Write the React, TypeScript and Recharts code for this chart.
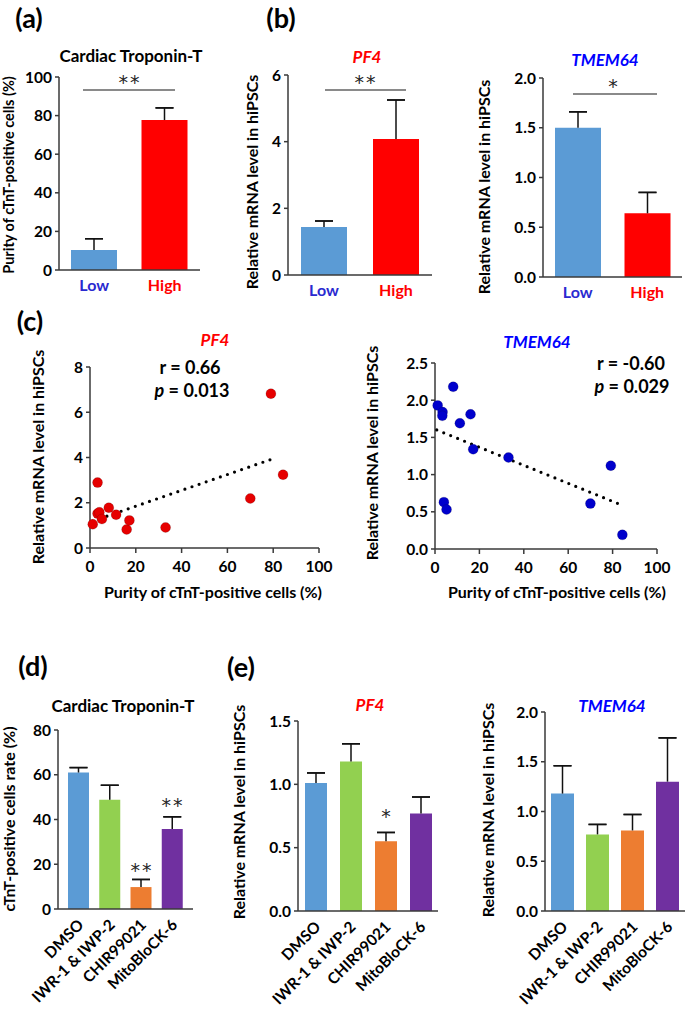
import React from 'react';
import { BarChart, Bar, XAxis, YAxis, ErrorBar, Cell, ScatterChart, Scatter } from 'recharts';

const FONT = 'Lato, "Open Sans", sans-serif';
const AXIS = '#3a3a3a';

// ---------- (a) / (b): Low vs High groups ----------
const groupCategories = ['Low', 'High'];
const groupBarColors = ['#5B9BD5', '#FF0000'];
const groupLabelColors = ['#2A2AD0', '#FF0000'];

const cTnTPurityValues = [10.3, 77.7];
const cTnTPurityErrors = [5.9, 6.3];
const cTnTPurityTicks = [0, 20, 40, 60, 80, 100];

const pf4GroupValues = [1.44, 4.08];
const pf4GroupErrors = [0.18, 1.17];
const pf4GroupTicks = [0, 2, 4, 6];

const tmem64GroupValues = [1.5, 0.64];
const tmem64GroupErrors = [0.16, 0.21];
const tmem64GroupTicks = [0, 0.5, 1, 1.5, 2];

// ---------- (c): correlation scatter ----------
const purityTicks = [0, 20, 40, 60, 80, 100];
const pf4PurityX = [1.2, 3.3, 3.3, 4.1, 5.2, 8.2, 11.4, 16.0, 17.2, 33.0, 70.0, 79.0, 84.3];
const pf4ScatterY = [1.05, 2.89, 1.52, 1.58, 1.28, 1.78, 1.47, 0.82, 1.22, 0.91, 2.19, 6.82, 3.24];
const pf4TrendX = [1.2, 81.2];
const pf4TrendY = [1.19, 3.99];
const pf4ScatterTicks = [0, 2, 4, 6, 8];

const tmem64PurityX = [1.2, 3.4, 3.3, 4.0, 5.2, 8.2, 11.2, 16.0, 17.2, 33.1, 70.0, 79.2, 84.4];
const tmem64ScatterY = [1.93, 1.84, 1.79, 0.63, 0.53, 2.18, 1.69, 1.81, 1.34, 1.23, 0.61, 1.12, 0.19];
const tmem64TrendX = [0.8, 82.5];
const tmem64TrendY = [1.6, 0.61];
const tmem64ScatterTicks = [0, 0.5, 1, 1.5, 2, 2.5];

// ---------- (d) / (e): treatments ----------
const treatments = ['DMSO', 'IWR-1 & IWP-2', 'CHIR99021', 'MitoBloCK-6'];
const treatmentColors = ['#5B9BD5', '#92D050', '#ED7D31', '#7030A0'];

const cTnTRateValues = [61.0, 48.8, 9.8, 35.7];
const cTnTRateErrors = [2.2, 6.5, 3.4, 5.5];
const cTnTRateTicks = [0, 20, 40, 60, 80];

const pf4TreatValues = [1.01, 1.18, 0.55, 0.77];
const pf4TreatErrors = [0.08, 0.14, 0.07, 0.13];
const pf4TreatTicks = [0, 0.5, 1, 1.5];

const tmem64TreatValues = [1.18, 0.77, 0.81, 1.3];
const tmem64TreatErrors = [0.28, 0.1, 0.16, 0.44];
const tmem64TreatTicks = [0, 0.5, 1, 1.5, 2];

const fmt0 = (v: number) => String(v);
const fmt1 = (v: number) => v.toFixed(1);

type TxtProps = {
  x: number; y: number; children: any; size?: number; color?: string;
  bold?: boolean; italic?: boolean; rotate?: boolean; spacing?: number; family?: string;
};
function Txt({ x, y, children, size = 15, color = '#000', bold = true, italic = false, rotate = false, spacing = 0, family = FONT }: TxtProps) {
  return (
    <div
      style={{
        position: 'absolute', left: x, top: y,
        transform: `translate(-50%,-50%)${rotate ? ' rotate(-90deg)' : ''}`,
        fontFamily: family, fontSize: size, fontWeight: bold ? 700 : 400,
        fontStyle: italic ? 'italic' : 'normal', color, whiteSpace: 'nowrap',
        lineHeight: 1, letterSpacing: spacing,
      }}
    >
      {children}
    </div>
  );
}

function Stars({ x, y, n }: { x: number; y: number; n: number }) {
  return <Txt x={x} y={y} size={19} bold={false} color="#262626" spacing={n > 1 ? 2 : 0} family='"DejaVu Sans", sans-serif'>{'*'.repeat(n)}</Txt>;
}

function HLine({ x1, x2, y }: { x1: number; x2: number; y: number }) {
  return <div style={{ position: 'absolute', left: x1, top: y - 0.75, width: x2 - x1, height: 1.5, background: '#8a8a8a' }} />;
}

const FlatTick = (colors: string[]) => (props: any) => {
  const { x, y, payload, index } = props;
  return (
    <text x={x} y={y} dy="0.8em" textAnchor="middle" fontFamily={FONT} fontWeight={700} fontSize={16}
      fill={colors[index] ?? '#000'}>{payload.value}</text>
  );
};

const RotTick = (props: any) => {
  const { x, y, payload } = props;
  const ax = x + 6;
  const ay = y + 9;
  return (
    <text x={ax} y={ay} textAnchor="end" fontFamily={FONT} fontWeight={700} fontSize={15.5}
      fill="#000" transform={`rotate(-45 ${ax} ${ay})`}>{payload.value}</text>
  );
};

type BarPanelProps = {
  x0: number; x1: number; yTop: number; yBot: number;
  cats: string[]; vals: number[]; errs: number[]; colors: string[];
  domain: [number, number]; ticks: number[]; fmt: (v: number) => string;
  barSize: number; rotated?: boolean; labelColors?: string[]; padX?: number;
};
function BarPanel({ x0, x1, yTop, yBot, cats, vals, errs, colors, domain, ticks, fmt, barSize, rotated, labelColors, padX = 0 }: BarPanelProps) {
  const YW = 50, MT = 12, MR = 2, XH = rotated ? 100 : 30;
  // whisker: from bar top up to value+err (no cap at the bar top); cap: zero-length span at value+err
  const data = cats.map((c, i) => ({ name: c, value: vals[i], whisker: [0, errs[i]], cap: [-errs[i], errs[i]] }));
  const width = YW + (x1 - x0) + MR;
  const height = MT + (yBot - yTop) + XH;
  return (
    <div style={{ position: 'absolute', left: x0 - YW, top: yTop - MT }}>
      <BarChart width={width} height={height} data={data} margin={{ top: MT, right: MR, left: 0, bottom: 0 }}
        barCategoryGap={0} style={{ overflow: 'visible' }}>
        <XAxis dataKey="name" interval={0} height={XH} tickLine={false}
          axisLine={{ stroke: AXIS, strokeWidth: 1.5 }}
          padding={{ left: padX, right: padX }}
          tick={rotated ? RotTick : FlatTick(labelColors ?? [])} />
        <YAxis width={YW} domain={domain} ticks={ticks} tickFormatter={fmt} interval={0}
          axisLine={{ stroke: AXIS, strokeWidth: 1.5 }} tickLine={{ stroke: AXIS, strokeWidth: 1.5 }}
          tickSize={4} tickMargin={3}
          tick={{ fill: '#000', fontFamily: FONT, fontWeight: 700, fontSize: 15.5 }} />
        <Bar dataKey="value" barSize={barSize} isAnimationActive={false}>
          {data.map((d, i) => (
            <Cell key={d.name} fill={colors[i]} />
          ))}
          <ErrorBar dataKey="whisker" direction="y" width={0} stroke="#111" strokeWidth={1.5} />
          <ErrorBar dataKey="cap" direction="y" width={9} stroke="#111" strokeWidth={1.5} />
        </Bar>
      </BarChart>
    </div>
  );
}

type ScatterPanelProps = {
  x0: number; x1: number; yTop: number; yBot: number;
  xs: number[]; ys: number[]; color: string; tx: number[]; ty: number[];
  yDomain: [number, number]; yTicks: number[]; fmt: (v: number) => string;
};
function ScatterPanel({ x0, x1, yTop, yBot, xs, ys, color, tx, ty, yDomain, yTicks, fmt }: ScatterPanelProps) {
  const YW = 50, MT = 12, MR = 20, XH = 30;
  const pts = xs.map((x, i) => ({ x, y: ys[i] }));
  const trend = tx.map((x, i) => ({ x, y: ty[i] }));
  const width = YW + (x1 - x0) + MR;
  const height = MT + (yBot - yTop) + XH;
  return (
    <div style={{ position: 'absolute', left: x0 - YW, top: yTop - MT }}>
      <ScatterChart width={width} height={height} margin={{ top: MT, right: MR, left: 0, bottom: 0 }}
        style={{ overflow: 'visible' }}>
        <XAxis type="number" dataKey="x" domain={[0, 100]} ticks={purityTicks} interval={0} height={XH}
          axisLine={{ stroke: AXIS, strokeWidth: 1.5 }} tickLine={{ stroke: AXIS, strokeWidth: 1.5 }}
          tickSize={5} tickMargin={8}
          tick={{ fill: '#000', fontFamily: FONT, fontWeight: 700, fontSize: 15.5 }} />
        <YAxis type="number" dataKey="y" width={YW} domain={yDomain} ticks={yTicks} tickFormatter={fmt} interval={0}
          axisLine={{ stroke: AXIS, strokeWidth: 1.5 }} tickLine={{ stroke: AXIS, strokeWidth: 1.5 }}
          tickSize={4} tickMargin={3}
          tick={{ fill: '#000', fontFamily: FONT, fontWeight: 700, fontSize: 15.5 }} />
        <Scatter data={trend} isAnimationActive={false} fill="#000"
          line={{ stroke: '#000', strokeWidth: 3.2, strokeDasharray: '0 7.5', strokeLinecap: 'round' }}
          shape={() => <g />} />
        <Scatter data={pts} isAnimationActive={false} fill={color}
          shape={(p: any) => <circle cx={p.cx} cy={p.cy} r={5} fill={color} stroke="#000" strokeOpacity={0.15} />} />
      </ScatterChart>
    </div>
  );
}

export default function App() {
  return (
    <div style={{ position: 'absolute', left: 0, top: 0, width: 685, height: 1009, background: '#fff', overflow: 'hidden' }}>
      {/* (a) */}
      <Txt x={29} y={17} size={27}>(a)</Txt>
      <Txt x={131} y={55} size={17}>Cardiac Troponin-T</Txt>
      <Txt x={9} y={175} size={14.5} rotate>Purity of cTnT-positive cells (%)</Txt>
      <BarPanel x0={59} x1={200} yTop={77} yBot={270} cats={groupCategories} vals={cTnTPurityValues}
        errs={cTnTPurityErrors} colors={groupBarColors} domain={[0, 100]} ticks={cTnTPurityTicks} fmt={fmt0}
        barSize={46} labelColors={groupLabelColors} />
      <HLine x1={83} x2={175} y={90} />
      <Stars x={130} y={82} n={2} />

      {/* (b) */}
      <Txt x={281} y={17} size={27}>(b)</Txt>
      <Txt x={367} y={56} size={17} italic color="#FF0000">PF4</Txt>
      <Txt x={252} y={182} size={16} rotate>Relative mRNA level in hiPSCs</Txt>
      <BarPanel x0={288} x1={432} yTop={75} yBot={275} cats={groupCategories} vals={pf4GroupValues}
        errs={pf4GroupErrors} colors={groupBarColors} domain={[0, 6]} ticks={pf4GroupTicks} fmt={fmt0}
        barSize={46} labelColors={groupLabelColors} />
      <HLine x1={325} x2={406} y={90} />
      <Stars x={366} y={82} n={2} />

      <Txt x={605} y={59} size={17} italic color="#0000FF">TMEM64</Txt>
      <Txt x={484} y={187} size={16} rotate>Relative mRNA level in hiPSCs</Txt>
      <BarPanel x0={543} x1={682} yTop={78} yBot={277} cats={groupCategories} vals={tmem64GroupValues}
        errs={tmem64GroupErrors} colors={groupBarColors} domain={[0, 2]} ticks={tmem64GroupTicks} fmt={fmt1}
        barSize={46} labelColors={groupLabelColors} />
      <HLine x1={573} x2={657} y={94} />
      <Stars x={613} y={86} n={1} />

      {/* (c) */}
      <Txt x={30} y={320} size={27}>(c)</Txt>
      <Txt x={215} y={339} size={17} italic color="#FF0000">PF4</Txt>
      <Txt x={190} y={367} size={18}>r = 0.66</Txt>
      <Txt x={192} y={390} size={18}><i>p</i> = 0.013</Txt>
      <Txt x={38} y={457} size={16} rotate>Relative mRNA level in hiPSCs</Txt>
      <Txt x={213} y={592} size={16}>Purity of cTnT-positive cells (%)</Txt>
      <ScatterPanel x0={90} x1={319} yTop={367} yBot={548} xs={pf4PurityX} ys={pf4ScatterY} color="#E60000"
        tx={pf4TrendX} ty={pf4TrendY} yDomain={[0, 8]} yTicks={pf4ScatterTicks} fmt={fmt0} />

      <Txt x={537} y={341} size={17} italic color="#0000FF">TMEM64</Txt>
      <Txt x={631} y={363} size={18}>r = -0.60</Txt>
      <Txt x={632} y={386} size={18}><i>p</i> = 0.029</Txt>
      <Txt x={372} y={453} size={16} rotate>Relative mRNA level in hiPSCs</Txt>
      <Txt x={557} y={592} size={16}>Purity of cTnT-positive cells (%)</Txt>
      <ScatterPanel x0={435} x1={657} yTop={363} yBot={549} xs={tmem64PurityX} ys={tmem64ScatterY} color="#0000CC"
        tx={tmem64TrendX} ty={tmem64TrendY} yDomain={[0, 2.5]} yTicks={tmem64ScatterTicks} fmt={fmt1} />

      {/* (d) */}
      <Txt x={33} y={665} size={27}>(d)</Txt>
      <Txt x={123} y={705} size={17}>Cardiac Troponin-T</Txt>
      <Txt x={9} y={819} size={16} rotate>cTnT-positive cells rate (%)</Txt>
      <BarPanel x0={58} x1={193} yTop={730} yBot={909} cats={treatments} vals={cTnTRateValues}
        errs={cTnTRateErrors} colors={treatmentColors} domain={[0, 80]} ticks={cTnTRateTicks} fmt={fmt0}
        barSize={21} rotated padX={5} />
      <Stars x={142} y={870} n={2} />
      <Stars x={173} y={805} n={2} />

      {/* (e) */}
      <Txt x={241} y={666} size={27}>(e)</Txt>
      <Txt x={370} y={704} size={17} italic color="#FF0000">PF4</Txt>
      <Txt x={239} y={812} size={16} rotate>Relative mRNA level in hiPSCs</Txt>
      <BarPanel x0={298} x1={438} yTop={721} yBot={911} cats={treatments} vals={pf4TreatValues}
        errs={pf4TreatErrors} colors={treatmentColors} domain={[0, 1.5]} ticks={pf4TreatTicks} fmt={fmt1}
        barSize={22} rotated />
      <Stars x={386} y={816} n={1} />

      <Txt x={612} y={705} size={17} italic color="#0000FF">TMEM64</Txt>
      <Txt x={488} y={810} size={16} rotate>Relative mRNA level in hiPSCs</Txt>
      <BarPanel x0={545} x1={685} yTop={712} yBot={911} cats={treatments} vals={tmem64TreatValues}
        errs={tmem64TreatErrors} colors={treatmentColors} domain={[0, 2]} ticks={tmem64TreatTicks} fmt={fmt1}
        barSize={23} rotated />
    </div>
  );
}
